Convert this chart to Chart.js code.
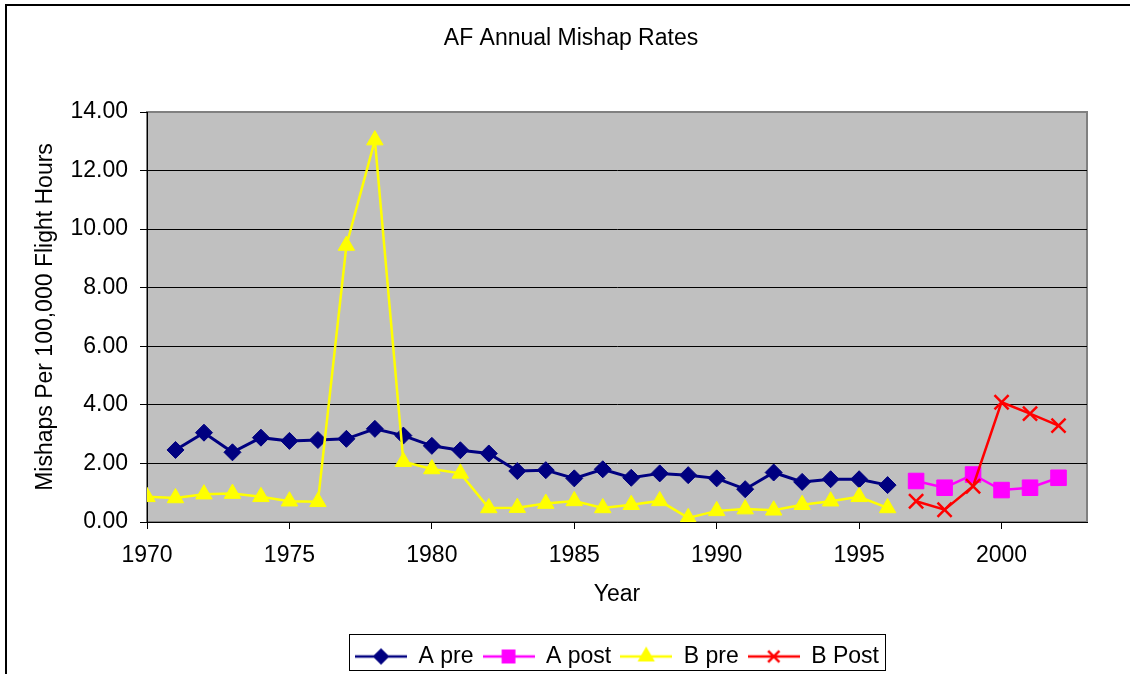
<!DOCTYPE html>
<html>
<head>
<meta charset="utf-8">
<title>AF Annual Mishap Rates</title>
<script src="https://cdn.jsdelivr.net/npm/chart.js@4.4.1/dist/chart.umd.min.js"></script>
<style>
  html, body { margin: 0; padding: 0; background: #fff; overflow: hidden; }
  #frame { position: absolute; left: 5px; top: 4px; width: 1200px; height: 800px; border: 2px solid #000; }
  #chart { position: absolute; left: 0; top: 0; }
</style>
</head>
<body>
<div id="frame"></div>
<canvas id="chart" width="1130" height="678"></canvas>
<script>
const FONT = "'Liberation Sans', Arial, sans-serif";

// years for each series
const aPreYears = [1971, 1972, 1973, 1974, 1975, 1976, 1977, 1978, 1979, 1980, 1981, 1982, 1983,
                   1984, 1985, 1986, 1987, 1988, 1989, 1990, 1991, 1992, 1993, 1994, 1995, 1996];
const bPreYears = [1970, 1971, 1972, 1973, 1974, 1975, 1976, 1977, 1978, 1979, 1980, 1981, 1982, 1983,
                   1984, 1985, 1986, 1987, 1988, 1989, 1990, 1991, 1992, 1993, 1994, 1995, 1996];
const postYears = [1997, 1998, 1999, 2000, 2001, 2002];

// mishaps per 100,000 flight hours
const aPre = [2.46, 3.05, 2.38, 2.88, 2.77, 2.80, 2.84, 3.18, 2.95, 2.60, 2.45, 2.34, 1.74,
              1.77, 1.49, 1.80, 1.51, 1.66, 1.60, 1.49, 1.12, 1.69, 1.37, 1.46, 1.46, 1.26];
const aPost = [1.40, 1.17, 1.62, 1.09, 1.17, 1.51];
const bPre = [0.86, 0.82, 0.95, 0.97, 0.86, 0.71, 0.69, 9.44, 13.04, 2.06, 1.81, 1.66, 0.48, 0.49,
              0.63, 0.72, 0.48, 0.59, 0.72, 0.14, 0.38, 0.44, 0.40, 0.59, 0.71, 0.86, 0.48];
const bPost = [0.71, 0.42, 1.22, 4.09, 3.70, 3.29];

const seriesNames = ['A pre', 'A post', 'B pre', 'B Post'];
const yTickStep = 2;
const xTickStep = 5;

function toPoints(years, values) {
    return years.map((x, i) => ({ x: x, y: values[i] }));
}

// small line + marker image for the legend
function legendIcon(color, style, radius, lineWidth) {
    const c = document.createElement('canvas');
    c.width = 52;
    c.height = 22;
    const g = c.getContext('2d');
    g.strokeStyle = color;
    g.fillStyle = color;
    g.lineWidth = lineWidth;
    g.beginPath();
    g.moveTo(0, 11);
    g.lineTo(52, 11);
    g.stroke();
    Chart.helpers.drawPoint(g, { pointStyle: style, radius: radius, borderWidth: lineWidth, rotation: 0 }, 26, 11);
    return c;
}

const icons = [
    legendIcon('#000080', 'rectRot', 6.5, 2.5),
    legendIcon('#ff00ff', 'rect', 8, 2.5),
    legendIcon('#ffff00', 'triangle', 7.5, 2.5),
    legendIcon('#ff0000', 'crossRot', 8, 2.5)
];

const plotBackground = {
    id: 'plotBackground',
    beforeDraw(chart) {
        const { ctx, chartArea: a } = chart;
        ctx.save();
        ctx.fillStyle = '#c0c0c0';
        ctx.fillRect(a.left, a.top, a.right - a.left, a.bottom - a.top);
        ctx.strokeStyle = '#808080';
        ctx.lineWidth = 2;
        ctx.strokeRect(a.left, a.top, a.right - a.left, a.bottom - a.top);
        ctx.restore();
    }
};

const legendBox = {
    id: 'legendBox',
    afterDraw(chart) {
        const boxes = chart.legend && chart.legend.legendHitBoxes;
        if (!boxes || !boxes.length) return;
        const left = Math.min(...boxes.map(b => b.left)) - 6;
        const right = Math.max(...boxes.map(b => b.left + b.width)) + 6;
        const top = boxes[0].top - 11;
        const ctx = chart.ctx;
        ctx.save();
        ctx.strokeStyle = '#000';
        ctx.lineWidth = 1;
        ctx.strokeRect(Math.round(left) + 0.5, Math.round(top) + 0.5, Math.round(right - left), 36);
        ctx.restore();
    }
};

new Chart(document.getElementById('chart'), {
    type: 'line',
    data: {
        datasets: [{
            label: seriesNames[0],
            data: toPoints(aPreYears, aPre),
            borderColor: '#000080',
            backgroundColor: '#000080',
            borderWidth: 3,
            pointStyle: 'rectRot',
            pointRadius: 8.5,
            pointBorderWidth: 1,
            order: 4
        }, {
            label: seriesNames[1],
            data: toPoints(postYears, aPost),
            borderColor: '#ff00ff',
            backgroundColor: '#ff00ff',
            borderWidth: 2.5,
            pointStyle: 'rect',
            pointRadius: 11,
            pointBorderWidth: 1,
            order: 3
        }, {
            label: seriesNames[2],
            data: toPoints(bPreYears, bPre),
            borderColor: '#ffff00',
            backgroundColor: '#ffff00',
            borderWidth: 2.5,
            pointStyle: 'triangle',
            pointRadius: 9.5,
            pointBorderWidth: 1,
            order: 2
        }, {
            label: seriesNames[3],
            data: toPoints(postYears, bPost),
            borderColor: '#ff0000',
            backgroundColor: '#ff0000',
            borderWidth: 2.5,
            pointStyle: 'crossRot',
            pointRadius: 10,
            pointBorderWidth: 2.5,
            order: 1
        }]
    },
    options: {
        responsive: false,
        animation: false,
        devicePixelRatio: 1,
        layout: { padding: { left: 12, right: 0, top: 0, bottom: 0 } },
        elements: { line: { tension: 0 } },
        plugins: {
            tooltip: { enabled: false },
            title: {
                display: true,
                text: 'AF Annual Mishap Rates',
                color: '#000',
                font: { family: FONT, size: 23, weight: 'normal' },
                padding: { top: 25, bottom: 59.4 }
            },
            legend: {
                display: true,
                position: 'bottom',
                fullSize: false,
                labels: {
                    color: '#000',
                    font: { family: FONT, size: 23 },
                    usePointStyle: true,
                    pointStyleWidth: 52,
                    padding: 9,
                    sort: (a, b) => a.datasetIndex - b.datasetIndex,
                    generateLabels(chart) {
                        const items = Chart.defaults.plugins.legend.labels.generateLabels(chart);
                        items.forEach(item => { item.pointStyle = icons[item.datasetIndex]; });
                        return items;
                    }
                }
            }
        },
        scales: {
            x: {
                type: 'linear',
                min: 1970,
                max: 2003,
                afterFit(s) { s.height = 114; },
                ticks: {
                    stepSize: xTickStep,
                    includeBounds: false,
                    maxRotation: 0,
                    padding: 13,
                    color: '#000',
                    font: { family: FONT, size: 23 },
                    callback: v => String(v)
                },
                grid: { drawOnChartArea: false, drawTicks: true, tickLength: 7, color: '#000' },
                border: { color: '#000', width: 1 },
                title: {
                    display: true,
                    text: 'Year',
                    color: '#000',
                    font: { family: FONT, size: 23 },
                    padding: { top: 0, bottom: 27.2 }
                }
            },
            y: {
                min: 0,
                max: 14,
                afterFit(s) { s.width = 135; },
                ticks: {
                    stepSize: yTickStep,
                    padding: 12,
                    color: '#000',
                    font: { family: FONT, size: 23 },
                    callback: v => v.toFixed(2)
                },
                grid: {
                    color: c => (c.tick && c.tick.value === 14 ? 'rgba(0,0,0,0)' : '#000'),
                    tickColor: '#000',
                    tickLength: 7,
                    lineWidth: 1
                },
                border: { color: '#000', width: 1 },
                title: {
                    display: true,
                    text: 'Mishaps Per 100,000 Flight Hours',
                    color: '#000',
                    font: { family: FONT, size: 23 },
                    padding: { top: 20.2, bottom: 0 }
                }
            },
            yRight: {
                position: 'right',
                display: true,
                afterFit(s) { s.width = 43; },
                grid: { display: false },
                ticks: { display: false },
                border: { display: false }
            }
        }
    },
    plugins: [plotBackground, legendBox]
});
</script>
</body>
</html>
